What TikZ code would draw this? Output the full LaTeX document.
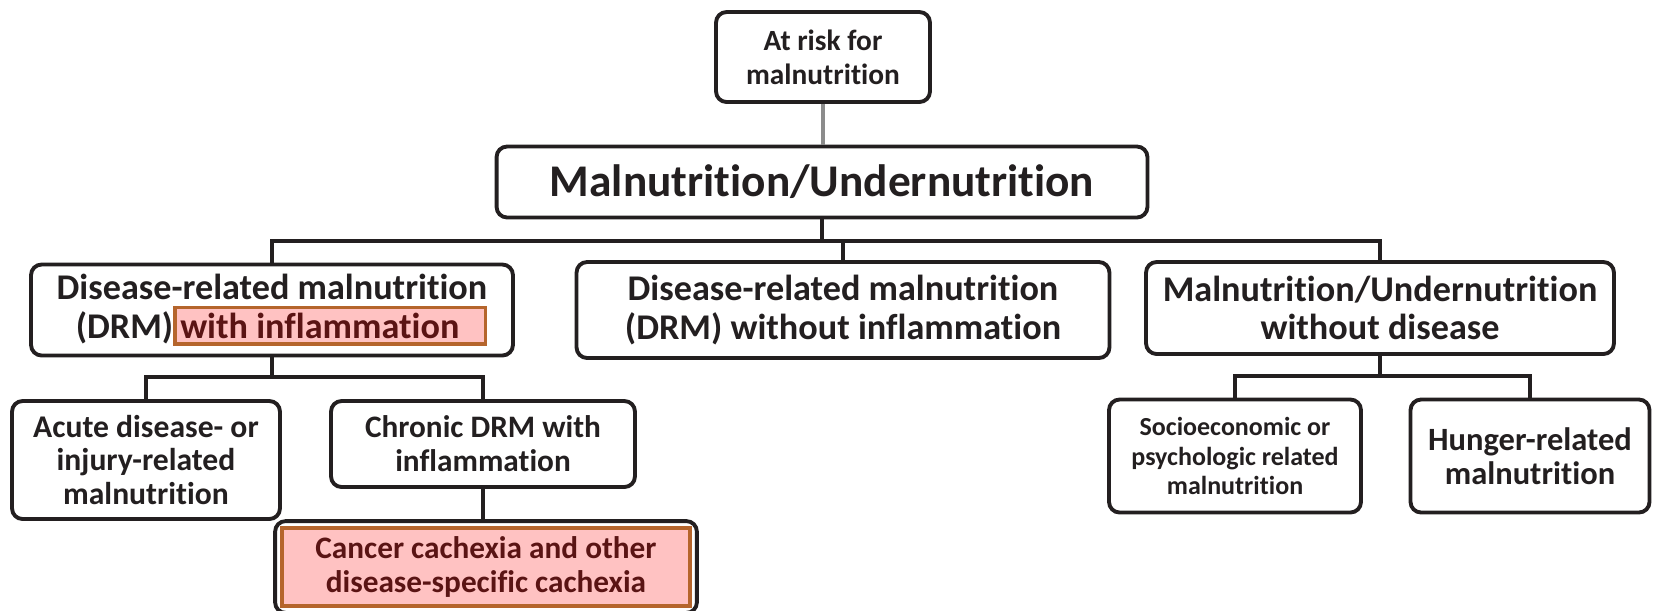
\documentclass[tikz,border=0pt]{standalone}
\usepackage{fontspec}
\setmainfont{Carlito}[Ligatures=NoCommon]
\usetikzlibrary{fit, positioning}
\definecolor{ink}{HTML}{231F20}
\definecolor{linkgray}{HTML}{8C8C8C}
\definecolor{hlfill}{HTML}{FFC2C2}
\definecolor{hlline}{HTML}{B5652C}
\definecolor{hltext}{HTML}{5A1414}
\setlength{\fboxrule}{2pt}
\setlength{\fboxsep}{2pt}
\tikzstyle{line} = [draw, line width=2.1pt, color=ink]
\tikzstyle{block} = [rectangle, draw=ink, line width=2.2pt, rounded corners=6pt,
  align=center, text=ink, inner sep=0pt]
\tikzstyle{hilite} = [rectangle, draw=hlline, fill=hlfill, line width=2.2pt,
  align=center, text=hltext, inner sep=0pt]

\begin{document}
\begin{tikzpicture}[x=0.02cm, y=-0.02cm]
    \useasboundingbox (0,0) rectangle (1653,610);

    \node [block, minimum width=4.28cm, minimum height=1.80cm,
      font=\fontsize{16.7}{19.3}\bfseries] (risk) at (823,57) {At risk for\\malnutrition};
    \node [block, minimum width=13.02cm, minimum height=1.42cm,
      font=\fontsize{25.8}{28}\bfseries] (mal) at (822,182) {Malnutrition/Undernutrition};

    \node [block, minimum width=9.64cm, minimum height=1.82cm,
      font=\fontsize{20.6}{22}\bfseries] (drmInfl) at (272,310)
      {Disease-related malnutrition\\\hspace*{11pt}(DRM)\fcolorbox{hlline}{hlfill}{\color{hltext}with inflammation\hspace{12pt}}};
    \node [block, minimum width=10.66cm, minimum height=1.92cm,
      font=\fontsize{20.6}{22}\bfseries] (drmNoInfl) at (843,310)
      {Disease-related malnutrition\\(DRM) without inflammation};
    \node [block, minimum width=9.36cm, minimum height=1.84cm,
      font=\fontsize{20.6}{22}\bfseries] (noDisease) at (1380,308)
      {Malnutrition/Undernutrition\\without disease};

    \node [block, minimum width=5.36cm, minimum height=2.36cm,
      font=\fontsize{18}{19.3}\bfseries] (acute) at (146,460)
      {Acute disease- or\\injury-related\\malnutrition};
    \node [block, minimum width=6.08cm, minimum height=1.72cm,
      font=\fontsize{17.8}{19.3}\bfseries] (chronic) at (483,444)
      {Chronic DRM with\\inflammation};

    \node [hilite, minimum width=8.16cm, minimum height=1.56cm,
      font=\fontsize{17.8}{19.3}\bfseries] (cachexia) at (486,567)
      {Cancer cachexia and other\\disease-specific cachexia};
    \node [block, fit=(cachexia), inner sep=0.1cm] (cachexiaFrame) {};

    \node [block, minimum width=5.04cm, minimum height=2.26cm,
      font=\fontsize{14.8}{16.8}\bfseries] (socio) at (1235,456)
      {Socioeconomic or\\psychologic related\\malnutrition};
    \node [block, minimum width=4.78cm, minimum height=2.26cm,
      font=\fontsize{18.5}{19.3}\bfseries] (hunger) at (1530,456)
      {Hunger-related\\malnutrition};

    \coordinate (malBar) at (822,241);
    \coordinate (inflBar) at (272,377);
    \coordinate (noDisBar) at (1380,376);

    \path [line, color=linkgray] (risk.south) -- (risk.south |- mal.north);
    \path [line] (mal) -- (malBar);
    \path [line] (malBar) -| (drmInfl);
    \path [line] (malBar) -| (drmNoInfl);
    \path [line] (malBar) -| (noDisease);

    \path [line] (drmInfl) -- (inflBar);
    \path [line] (inflBar) -| (acute);
    \path [line] (inflBar) -| (chronic);
    \path [line] (chronic.south) -- (chronic.south |- cachexiaFrame.north);

    \path [line] (noDisease) -- (noDisBar);
    \path [line] (noDisBar) -| (socio);
    \path [line] (noDisBar) -| (hunger);
\end{tikzpicture}
\end{document}
